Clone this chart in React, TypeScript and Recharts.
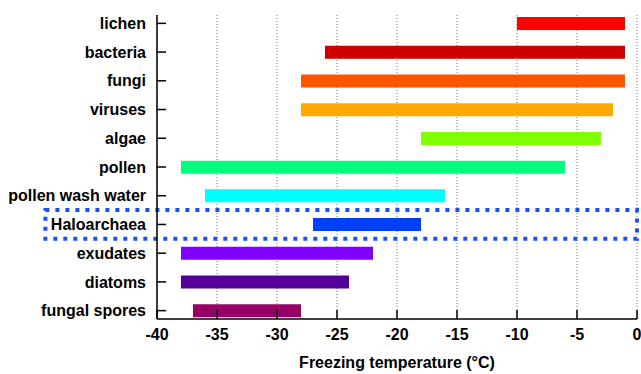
import {
  BarChart,
  Bar,
  Cell,
  XAxis,
  YAxis,
  CartesianGrid,
  ReferenceArea,
} from "recharts";

const categories = [
  "lichen",
  "bacteria",
  "fungi",
  "viruses",
  "algae",
  "pollen",
  "pollen wash water",
  "Haloarchaea",
  "exudates",
  "diatoms",
  "fungal spores",
];
const minTemps = [-10, -26, -28, -28, -18, -38, -36, -27, -38, -38, -37];
const maxTemps = [-1, -1, -1, -2, -3, -6, -16, -18, -22, -24, -28];
const barColors = [
  "#ff0000",
  "#cc0000",
  "#ff5500",
  "#ffaa00",
  "#80ff00",
  "#00ff80",
  "#00ffff",
  "#0040ff",
  "#8000ff",
  "#550099",
  "#990066",
];
const xTicks = [-40, -35, -30, -25, -20, -15, -10, -5, 0];

const data = categories.map((name, i) => ({
  name,
  range: [minTemps[i], maxTemps[i]],
}));

const font = "'Liberation Sans', Arial, sans-serif";
const tickStyle = { fill: "#000", fontSize: 16, fontWeight: 700, fontFamily: font };

export default function App() {
  return (
    <div style={{ position: "absolute", left: 0, top: 0 }}>
      <BarChart
        width={641}
        height={374}
        data={data}
        layout="vertical"
        margin={{ top: 15, right: 4, bottom: 0, left: 0 }}
      >
        <CartesianGrid
          horizontal={false}
          stroke="#777"
          strokeDasharray="1 2"
        />
        <XAxis
          type="number"
          domain={[-40, 0]}
          ticks={xTicks}
          allowDataOverflow
          height={55}
          tickSize={-9}
          tickMargin={19}
          tick={tickStyle}
          axisLine={{ stroke: "#000", strokeWidth: 1.5 }}
          tickLine={{ stroke: "#000", strokeWidth: 1.5 }}
          label={{
            value: "Freezing temperature (°C)",
            position: "insideBottom",
            offset: 6,
            style: { fill: "#000", fontSize: 16, fontWeight: 700, fontFamily: font },
          }}
        />
        <XAxis
          xAxisId="top"
          orientation="top"
          type="number"
          domain={[-40, 0]}
          ticks={xTicks}
          height={0}
          mirror
          tick={false}
          tickSize={9}
          axisLine={{ stroke: "#000", strokeWidth: 1.5 }}
          tickLine={{ stroke: "#000", strokeWidth: 1.5 }}
        />
        <YAxis
          type="category"
          dataKey="name"
          width={157}
          padding={{ top: -6, bottom: -6 }}
          interval={0}
          tickSize={-9}
          tickMargin={20}
          tick={tickStyle}
          axisLine={{ stroke: "#000", strokeWidth: 1.5 }}
          tickLine={{ stroke: "#000", strokeWidth: 1.5 }}
        />
        <YAxis
          yAxisId="right"
          orientation="right"
          type="category"
          dataKey="name"
          width={0}
          padding={{ top: -6, bottom: -6 }}
          interval={0}
          mirror
          tick={false}
          tickSize={9}
          axisLine={{ stroke: "#000", strokeWidth: 1.5 }}
          tickLine={{ stroke: "#000", strokeWidth: 1.5 }}
        />
        <Bar dataKey="range" barSize={13} isAnimationActive={false}>
          {data.map((d, i) => (
            <Cell key={d.name} fill={barColors[i]} />
          ))}
        </Bar>
        <ReferenceArea
          x1={-49.3}
          x2={0}
          y1="Haloarchaea"
          y2="Haloarchaea"
          ifOverflow="visible"
          fill="none"
          stroke="#1a4fff"
          strokeWidth={4}
          strokeDasharray="4 6"
        />
      </BarChart>
    </div>
  );
}
